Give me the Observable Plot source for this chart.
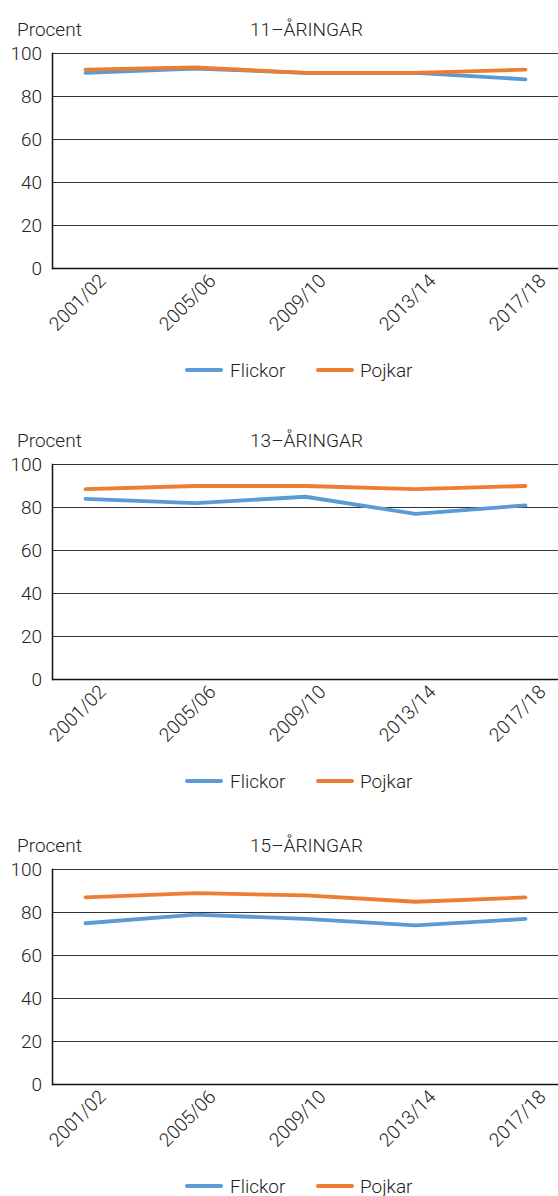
<!DOCTYPE html>
<html>
<head>
<meta charset="utf-8">
<script src="https://cdn.jsdelivr.net/npm/d3@7"></script>
<script src="https://cdn.jsdelivr.net/npm/@observablehq/plot@0.6"></script>
<style>
  html, body { margin: 0; padding: 0; background: #fff; }
  #root { position: relative; width: 558px; height: 1196px; overflow: hidden; font-family: Roboto, "Noto Sans", sans-serif; font-weight: 300; color: #222; }
  .panel { position: absolute; left: 0; width: 558px; height: 410px; }
  .lbl { position: absolute; font-size: 19px; line-height: 19px; white-space: nowrap; }
  .title { transform: translateX(-50%); }
  .sw { position: absolute; height: 4px; width: 38px; border-radius: 2px; }
  .panel svg { position: absolute; left: 0; top: 40px; overflow: visible; font-weight: 300; }
</style>
</head>
<body>
<div id="root"></div>
<script>
const perioder = ["2001/02", "2005/06", "2009/10", "2013/14", "2017/18"];
const serier = ["Flickor", "Pojkar"];
const farger = ["#5B9BD5", "#ED7D31"];
const yTicks = [0, 20, 40, 60, 80, 100];
const axelEtikett = "Procent";

const titlar = ["11–ÅRINGAR", "13–ÅRINGAR", "15–ÅRINGAR"];
const flickor11 = [91, 93, 91, 91, 88];
const pojkar11 = [92.5, 93.5, 91, 91, 92.5];
const flickor13 = [84, 82, 85, 77, 81];
const pojkar13 = [88.5, 90, 90, 88.5, 90];
const flickor15 = [75, 79, 77, 74, 77];
const pojkar15 = [87, 89, 88, 85, 87];

const paneler = [
  {titel: titlar[0], f: flickor11, p: pojkar11, top: 0},
  {titel: titlar[1], f: flickor13, p: pojkar13, top: 411},
  {titel: titlar[2], f: flickor15, p: pojkar15, top: 816}
];

const root = document.getElementById("root");

for (const pan of paneler) {
  const data = [];
  perioder.forEach((per, i) => data.push({period: per, serie: serier[0], value: pan.f[i]}));
  perioder.forEach((per, i) => data.push({period: per, serie: serier[1], value: pan.p[i]}));

  const div = document.createElement("div");
  div.className = "panel";
  div.style.top = pan.top + "px";

  const proc = document.createElement("div");
  proc.className = "lbl";
  proc.style.left = "17px";
  proc.style.top = "20px";
  proc.textContent = axelEtikett;
  div.appendChild(proc);

  const tit = document.createElement("div");
  tit.className = "lbl title";
  tit.style.left = "306.5px";
  tit.style.top = "20px";
  tit.textContent = pan.titel;
  div.appendChild(tit);

  const chart = Plot.plot({
    width: 558,
    height: 13 + 215 + 90,
    marginTop: 13,
    marginBottom: 90,
    marginLeft: 52,
    marginRight: 0,
    style: {fontFamily: "Roboto, 'Noto Sans', sans-serif", fontSize: "19px", color: "#222", background: "transparent"},
    x: {type: "point", domain: perioder, padding: 0.2825, axis: null},
    y: {domain: [0, 100], axis: null},
    color: {domain: serier, range: farger},
    marks: [
      Plot.ruleY(yTicks.filter(d => d > 0), {stroke: "#333", strokeWidth: 1.2, strokeOpacity: 1}),
      Plot.ruleY([0], {stroke: "#111", strokeWidth: 1.5}),
      Plot.frame({anchor: "left", stroke: "#111", strokeWidth: 1.5}),
      Plot.axisY({ticks: yTicks, label: null, tickSize: 0, tickPadding: 10.5, fontSize: 19, fill: "#222", tickFormat: d => String(d)}),
      Plot.text(perioder, {x: d => d, frameAnchor: "bottom", dy: 38.5, dx: -3.5, rotate: -45, textAnchor: "middle", fontSize: 19, fill: "#222"}),
      Plot.line(data, {x: "period", y: "value", z: "serie", stroke: "serie", strokeWidth: 3.8, strokeLinecap: "round", strokeLinejoin: "round"})
    ]
  });
  div.appendChild(chart);

  const legPos = [{sw: 185, tx: 230}, {sw: 316, tx: 360}];
  serier.forEach((s, i) => {
    const sw = document.createElement("div");
    sw.className = "sw";
    sw.style.left = legPos[i].sw + "px";
    sw.style.top = "368px";
    sw.style.background = farger[i];
    div.appendChild(sw);
    const t = document.createElement("div");
    t.className = "lbl";
    t.style.left = legPos[i].tx + "px";
    t.style.top = "361px";
    t.textContent = s;
    div.appendChild(t);
  });

  root.appendChild(div);
}
</script>
</body>
</html>
